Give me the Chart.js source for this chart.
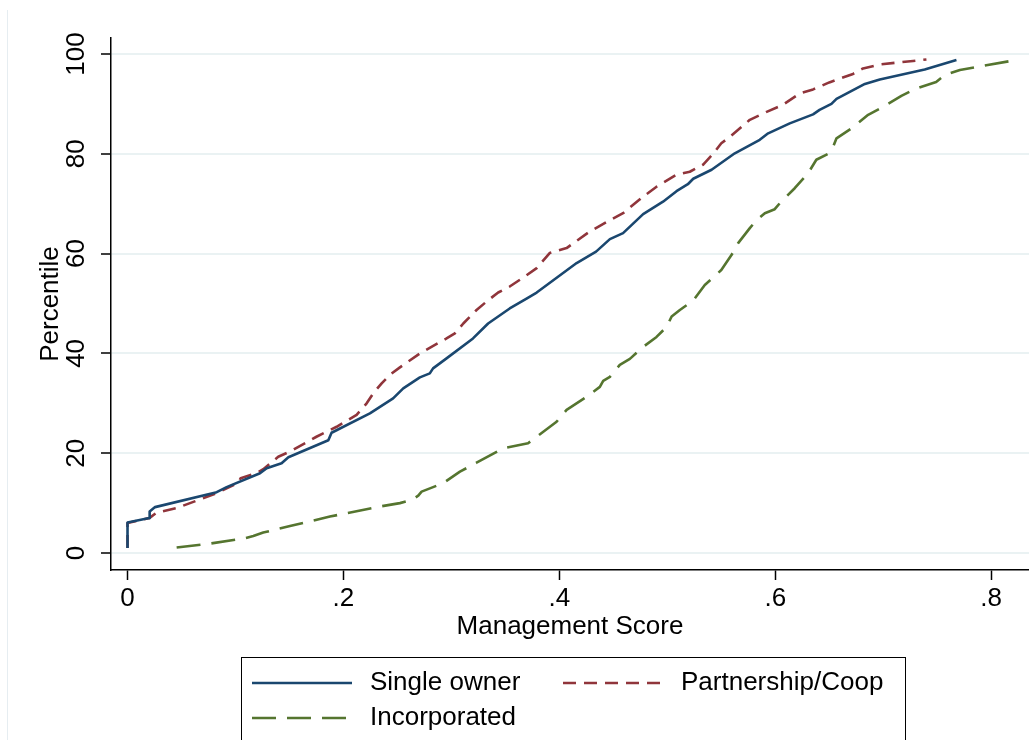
<!DOCTYPE html>
<html>
<head>
<meta charset="utf-8">
<script src="https://cdn.jsdelivr.net/npm/chart.js@4.4.0/dist/chart.umd.min.js"></script>
<style>
  html, body { margin: 0; padding: 0; background: #ffffff; overflow: hidden; }
  canvas { display: block; }
</style>
</head>
<body>
<canvas id="cdf" width="1029" height="740"></canvas>
<script>
// Cumulative distribution of management scores by ownership type
const seriesNames = ['Single owner', 'Partnership/Coop', 'Incorporated'];

const singleX = [0, 0, 0.0202, 0.0205, 0.0255, 0.0826, 0.0918, 0.1227, 0.1289, 0.1427, 0.149, 0.186, 0.189,
  0.2245, 0.246, 0.2554, 0.2708, 0.280, 0.283, 0.2955, 0.320, 0.334, 0.354, 0.3696, 0.379, 0.416, 0.434,
  0.4468, 0.459, 0.4776, 0.496, 0.5085, 0.519, 0.524, 0.541, 0.5625, 0.5856, 0.5934, 0.6134, 0.635, 0.641,
  0.652, 0.6567, 0.683, 0.6968, 0.7384, 0.7678];
const singleY = [1, 6.1, 7.0, 8.3, 9.2, 12.2, 13.2, 16.0, 17.0, 18.0, 19.2, 22.6, 24.1,
  28.0, 31.0, 33.0, 35.2, 36.0, 37.0, 39.0, 43.0, 46.0, 49.0, 51.0, 52.2, 58.1, 60.4,
  62.9, 64.1, 67.9, 70.4, 72.5, 73.9, 75.0, 76.8, 80.1, 82.8, 84.1, 86.1, 87.9, 88.8,
  90.0, 91.0, 94.0, 94.9, 96.9, 98.8];

const partX = [0, 0, 0.0202, 0.027, 0.0455, 0.0826, 0.0903, 0.1026, 0.1048, 0.1196, 0.1258, 0.1396, 0.152,
  0.175, 0.1937, 0.2122, 0.2215, 0.2276, 0.2354, 0.243, 0.2523, 0.2708, 0.2955, 0.3032, 0.311, 0.3233,
  0.3326, 0.3433, 0.354, 0.368, 0.379, 0.391, 0.4067, 0.428, 0.4468, 0.459, 0.4776, 0.49, 0.5085, 0.5208,
  0.533, 0.5424, 0.550, 0.558, 0.5764, 0.592, 0.607, 0.6227, 0.635, 0.650, 0.672, 0.6813, 0.6968, 0.7276, 0.740];
const partY = [1, 6.0, 7.0, 8.1, 9.0, 12.0, 12.8, 14.1, 15.0, 16.0, 16.8, 19.3, 20.5,
  23.3, 25.3, 27.7, 30.0, 32.0, 34.0, 35.7, 37.2, 40.0, 43.0, 44.0, 46.0, 48.7,
  50.4, 52.2, 53.4, 55.4, 57.1, 60.1, 61.1, 64.4, 66.7, 68.1, 71.4, 73.4, 75.8, 76.4,
  77.8, 80.0, 82.1, 83.4, 86.8, 88.4, 89.8, 92.1, 92.9, 94.3, 96.0, 97.1, 97.9, 98.6, 98.9];

const incX = [0.0455, 0.0764, 0.1072, 0.1165, 0.1257, 0.1505, 0.1875, 0.2307, 0.2523, 0.263, 0.2693, 0.2724,
  0.2924, 0.3079, 0.3233, 0.348, 0.371, 0.379, 0.3974, 0.4067, 0.4252, 0.4375, 0.4406, 0.4468, 0.456, 0.4653,
  0.4776, 0.49, 0.4993, 0.504, 0.5116, 0.524, 0.5347, 0.550, 0.5594, 0.5656, 0.5764, 0.5826, 0.5903, 0.5995,
  0.6042, 0.618, 0.6304, 0.638, 0.649, 0.6535, 0.6567, 0.672, 0.686, 0.70, 0.7168, 0.7307, 0.749, 0.757,
  0.771, 0.789, 0.826];
const incY = [1.1, 1.9, 2.9, 3.4, 4.1, 5.4, 7.3, 9.2, 10.0, 10.6, 11.5, 12.3,
  14.0, 16.3, 18.1, 21.0, 22.0, 23.3, 26.3, 28.7, 31.3, 33.3, 34.5, 35.3, 37.7, 38.9,
  41.3, 43.3, 45.3, 47.4, 48.7, 50.6, 53.7, 56.7, 59.7, 62.1, 65.1, 66.7, 68.1, 68.9,
  70.1, 73.1, 76.1, 78.8, 80.0, 81.4, 83.1, 85.3, 87.8, 89.4, 91.6, 93.1, 94.4, 95.8,
  96.8, 97.5, 98.9];

const xTickValues = [0, 0.2, 0.4, 0.6, 0.8];
const xTickLabels = ['0', '.2', '.4', '.6', '.8'];
const yTickValues = [0, 20, 40, 60, 80, 100];
const yTickLabels = ['0', '20', '40', '60', '80', '100'];

const FONT = "'Liberation Sans', Arial, Helvetica, sans-serif";

function points(xs, ys) {
  return xs.map((x, i) => ({ x: x, y: ys[i] }));
}

// Faint outer frame on the left of the graph region
const frameLine = {
  id: 'frameLine',
  beforeDraw(chart) {
    const ctx = chart.ctx;
    ctx.save();
    ctx.strokeStyle = '#e6edf1';
    ctx.lineWidth = 1;
    ctx.beginPath();
    ctx.moveTo(7.5, 10);
    ctx.lineTo(7.5, 740);
    ctx.stroke();
    ctx.restore();
  }
};

// Boxed legend under the plot, two columns
const boxedLegend = {
  id: 'boxedLegend',
  afterDraw(chart) {
    const ctx = chart.ctx;
    ctx.save();
    ctx.strokeStyle = '#000';
    ctx.lineWidth = 1;
    ctx.strokeRect(241.5, 657.5, 664, 120);
    const slots = [[252, 683], [563, 683], [252, 718]];
    chart.data.datasets.forEach((ds, i) => {
      const [x, y] = slots[i];
      ctx.beginPath();
      ctx.setLineDash(ds.borderDash || []);
      ctx.strokeStyle = ds.borderColor;
      ctx.lineWidth = ds.borderWidth;
      ctx.moveTo(x, y);
      ctx.lineTo(x + 100, y);
      ctx.stroke();
      ctx.setLineDash([]);
      ctx.fillStyle = '#000';
      ctx.font = '26px ' + FONT;
      ctx.textBaseline = 'middle';
      ctx.textAlign = 'left';
      ctx.fillText(ds.label, x + 118, y);
    });
    ctx.restore();
  }
};

new Chart(document.getElementById('cdf'), {
  type: 'line',
  data: {
    datasets: [
      {
        label: seriesNames[0],
        data: points(singleX, singleY),
        borderColor: '#1a476f',
        borderWidth: 2.6,
        borderDash: []
      },
      {
        label: seriesNames[1],
        data: points(partX, partY),
        borderColor: '#90353b',
        borderWidth: 2.6,
        borderDash: [13, 8]
      },
      {
        label: seriesNames[2],
        data: points(incX, incY),
        borderColor: '#55752f',
        borderWidth: 2.6,
        borderDash: [24, 11]
      }
    ]
  },
  options: {
    responsive: false,
    animation: false,
    parsing: true,
    elements: {
      point: { radius: 0, hoverRadius: 0 },
      line: { tension: 0, fill: false, borderCapStyle: 'butt', borderJoinStyle: 'round' }
    },
    layout: { padding: { top: 38, left: 0, right: 0, bottom: 90 } },
    plugins: {
      legend: { display: false },
      tooltip: { enabled: false }
    },
    scales: {
      x: {
        type: 'linear',
        min: -0.0153,
        max: 0.835,
        afterBuildTicks: (s) => { s.ticks = xTickValues.map(v => ({ value: v })); },
        afterFit: (s) => { s.height = 80; },
        ticks: {
          autoSkip: false,
          minRotation: 0,
          maxRotation: 0,
          padding: 3,
          color: '#000',
          font: { family: FONT, size: 26 },
          callback: (v) => {
            const i = xTickValues.indexOf(v);
            return i >= 0 ? xTickLabels[i] : '';
          }
        },
        grid: {
          drawOnChartArea: false,
          color: '#000',
          tickColor: '#000',
          tickLength: 10,
          tickWidth: 1.5
        },
        border: { color: '#000', width: 1.5 },
        title: {
          display: true,
          text: 'Management Score',
          color: '#000',
          font: { family: FONT, size: 26 },
          padding: { top: 0, bottom: 8 }
        }
      },
      y: {
        type: 'linear',
        min: -3.4,
        max: 103.2,
        afterBuildTicks: (s) => { s.ticks = yTickValues.map(v => ({ value: v })); },
        afterFit: (s) => { s.width = 111; },
        ticks: {
          autoSkip: false,
          minRotation: 90,
          maxRotation: 90,
          crossAlign: 'center',
          padding: 2,
          color: '#000',
          font: { family: FONT, size: 26 },
          callback: (v) => {
            const i = yTickValues.indexOf(v);
            return i >= 0 ? yTickLabels[i] : '';
          }
        },
        grid: {
          color: '#eaf2f3',
          lineWidth: 2,
          tickColor: '#000',
          tickLength: 10,
          tickWidth: 1.5
        },
        border: { color: '#000', width: 1.5 },
        title: {
          display: true,
          text: 'Percentile',
          color: '#000',
          font: { family: FONT, size: 26 },
          padding: { top: 35, bottom: 0 }
        }
      }
    }
  },
  plugins: [frameLine, boxedLegend]
});
</script>
</body>
</html>
